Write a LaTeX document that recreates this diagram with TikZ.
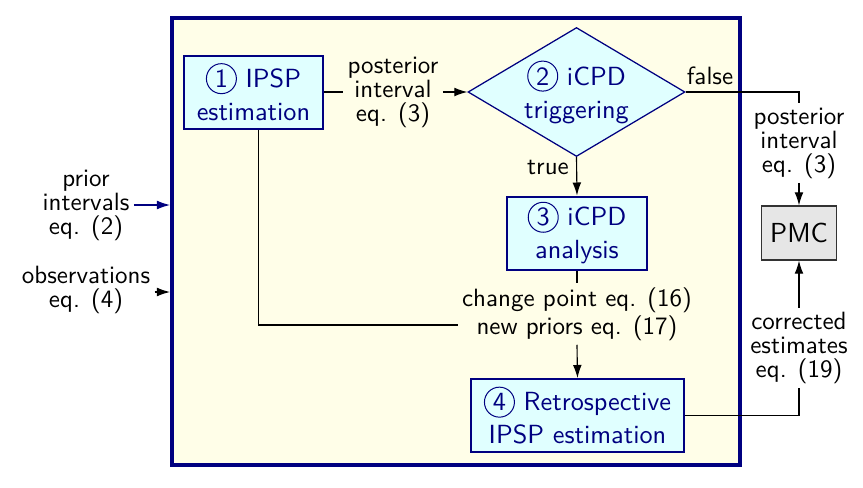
\documentclass[tikz,border=0pt]{standalone}
\usepackage{fontspec}
\usetikzlibrary{shapes.geometric,arrows.meta}
\definecolor{navy}{RGB}{0,0,128}
\definecolor{boxfill}{RGB}{224,255,255}
\definecolor{bgfill}{RGB}{255,254,232}
\definecolor{pmcfill}{RGB}{230,230,230}
\newcommand{\cnum}[1]{\tikz[baseline=(cnumnode.base)]\node[circle,draw=navy,line width=0.4pt,inner sep=0pt,minimum size=12pt,text=navy](cnumnode){#1};}
\begin{document}
\begin{tikzpicture}[x=0.4pt,y=-0.4pt,font=\sffamily,
  procbox/.style={draw=navy,line width=0.8pt,fill=boxfill,text=navy,align=center,minimum width=55.6pt,minimum height=29.2pt,inner sep=2pt,font=\sffamily\fontsize{10.5}{12.2}\selectfont},
  decbox/.style={diamond,draw=navy,line width=0.5pt,fill=boxfill,text=navy,align=center,aspect=1.68,inner sep=0pt,minimum width=86.8pt,minimum height=51.6pt,font=\sffamily\fontsize{10.5}{12.2}\selectfont},
  pmcbox/.style={draw=black!80,line width=0.5pt,fill=pmcfill,minimum width=29.6pt,minimum height=21.6pt,font=\sffamily\fontsize{11}{13}\selectfont},
  lbl/.style={align=center,inner sep=1.6pt,font=\sffamily\fontsize{10}{9.6}\selectfont},
  conn/.style={line width=0.45pt},
  arr/.style={conn,-{Latex[length=5.2pt,width=3.5pt]}}]
\useasboundingbox (0,0) rectangle (863,488);
% frame
\node[draw=navy,line width=1.6pt,fill=bgfill,minimum width=227.2pt,minimum height=178.8pt,inner sep=0pt] (frame) at (456,241.5) {};
% process nodes
\node[procbox] (b1) at (253.5,92) {\cnum{1} IPSP\\[1pt]estimation};
\node[decbox] (d2) at (576.5,92) {\cnum{2} iCPD\\[1pt]triggering};
\node[procbox] (b3) at (577,233) {\cnum{3} iCPD\\[1pt]analysis};
\node[procbox,minimum width=85.2pt] (b4) at (577.5,415.5) {\cnum{4} Retrospective\\[1pt]IPSP estimation};
\node[pmcbox] (pmc) at (799,233) {PMC};
% labels
\node[lbl] (l1) at (393,92) {posterior\\interval\\eq. (3)};
\node[lbl] (l2) at (799,143) {posterior\\interval\\eq. (3)};
\node[lbl] (l3) at (577,314) {change point eq. (16)\\new priors eq. (17)};
\node[lbl] (l4) at (799,348) {corrected\\estimates\\eq. (19)};
\node[lbl] (lprior) at (86,205) {prior\\intervals\\eq. (2)};
\node[lbl] (lobs) at (86,290) {observations\\eq. (4)};
\node[lbl] (lfalse) at (710,76) {false};
\node[lbl] (ltrue) at (548,167) {true};
% connectors
\draw[arr,navy] (lprior.east) -- (lprior.east -| frame.west);
\draw[arr] ([yshift=-0.8pt]lobs.east) -- ([yshift=-0.8pt]lobs.east -| frame.west);
\draw[conn] (b1.east) -- (l1.west);
\draw[arr] (l1.east) -- (d2.west);
\draw[conn] (d2.east) -| (l2.north);
\draw[arr] (l2.south) -- (pmc.north);
\draw[arr] (d2.south) -- (b3.north);
\draw[conn] (b3.south) -- (l3.north);
\draw[arr] (l3.south) -- (b4.north);
\draw[conn] ([xshift=2pt]b1.south) |- ([yshift=-4.4pt]l3.west);
\draw[conn] (b4.east) -| (l4.south);
\draw[arr] (l4.north) -- (pmc.south);
\end{tikzpicture}
\end{document}
